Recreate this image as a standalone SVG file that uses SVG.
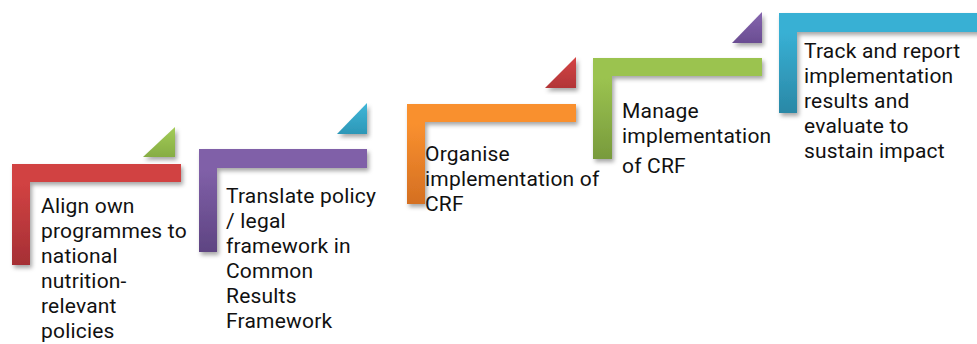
<svg xmlns="http://www.w3.org/2000/svg" width="977" height="344" viewBox="0 0 977 344">
  <defs>
    <filter id="sh" x="-20%" y="-20%" width="140%" height="140%">
      <feDropShadow dx="2" dy="3" stdDeviation="2" flood-color="#000" flood-opacity="0.35"/>
    </filter>
    <linearGradient id="gRed" x1="0" y1="0" x2="0" y2="1">
      <stop offset="0.2" stop-color="#D14242"/>
      <stop offset="1" stop-color="#A52F35"/>
    </linearGradient>
    <linearGradient id="gPurple" x1="0" y1="0" x2="0" y2="1">
      <stop offset="0.2" stop-color="#8060A8"/>
      <stop offset="1" stop-color="#5E4482"/>
    </linearGradient>
    <linearGradient id="gOrange" x1="0" y1="0" x2="0" y2="1">
      <stop offset="0.2" stop-color="#F9902F"/>
      <stop offset="1" stop-color="#D46F22"/>
    </linearGradient>
    <linearGradient id="gGreen" x1="0" y1="0" x2="0" y2="1">
      <stop offset="0.2" stop-color="#9BC350"/>
      <stop offset="1" stop-color="#789A3C"/>
    </linearGradient>
    <linearGradient id="gTeal" x1="0" y1="0" x2="0" y2="1">
      <stop offset="0.2" stop-color="#38B0D4"/>
      <stop offset="1" stop-color="#2A88A6"/>
    </linearGradient>
    <linearGradient id="tGreen" x1="0" y1="0" x2="0" y2="1">
      <stop offset="0" stop-color="#A3CC58"/>
      <stop offset="1" stop-color="#86AD43"/>
    </linearGradient>
    <linearGradient id="tTeal" x1="0" y1="0" x2="0" y2="1">
      <stop offset="0" stop-color="#40B6D8"/>
      <stop offset="1" stop-color="#2C97B7"/>
    </linearGradient>
    <linearGradient id="tRed" x1="0" y1="0" x2="0" y2="1">
      <stop offset="0" stop-color="#D44444"/>
      <stop offset="1" stop-color="#B23538"/>
    </linearGradient>
    <linearGradient id="tPurple" x1="0" y1="0" x2="0" y2="1">
      <stop offset="0" stop-color="#8565AE"/>
      <stop offset="1" stop-color="#6A4D92"/>
    </linearGradient>
  </defs>
  <style>
    .lbl { font-family: Roboto, "Open Sans", "Liberation Sans", sans-serif; font-size: 21px; letter-spacing: 0.2px; fill: #111; }
    .bar { filter: url(#sh); }
  </style>
  <rect width="977" height="344" fill="#FFFFFF"/>

  <g id="connectors">
    <path class="bar" d="M143,157 L175,157 L175,127 Z" fill="url(#tGreen)"/>
    <path class="bar" d="M337,134 L367,134 L367,103 Z" fill="url(#tTeal)"/>
    <path class="bar" d="M545,88 L576,88 L576,57 Z" fill="url(#tRed)"/>
    <path class="bar" d="M732,43 L762,43 L762,12 Z" fill="url(#tPurple)"/>
  </g>

  <g id="step1">
    <path class="bar" d="M12,164 H181 V182 H30 V265 H12 Z" fill="url(#gRed)"/>
    <text class="lbl" x="41" y="213">
      <tspan x="41" y="213">Align own</tspan>
      <tspan x="41" y="238">programmes to</tspan>
      <tspan x="41" y="263">national</tspan>
      <tspan x="41" y="288">nutrition-</tspan>
      <tspan x="41" y="313">relevant</tspan>
      <tspan x="41" y="338">policies</tspan>
    </text>
  </g>

  <g id="step2">
    <path class="bar" d="M199,149 H367 V168 H217 V252 H199 Z" fill="url(#gPurple)"/>
    <text class="lbl" x="226" y="203">
      <tspan x="226" y="203">Translate policy</tspan>
      <tspan x="226" y="228">/ legal</tspan>
      <tspan x="226" y="253">framework in</tspan>
      <tspan x="226" y="278">Common</tspan>
      <tspan x="226" y="303">Results</tspan>
      <tspan x="226" y="328">Framework</tspan>
    </text>
  </g>

  <g id="step3">
    <path class="bar" d="M407,104 H576 V122 H425 V204 H407 Z" fill="url(#gOrange)"/>
    <text class="lbl" x="425" y="161">
      <tspan x="425" y="161">Organise</tspan>
      <tspan x="425" y="186">implementation of</tspan>
      <tspan x="425" y="211">CRF</tspan>
    </text>
  </g>

  <g id="step4">
    <path class="bar" d="M593,58 H762 V76 H612 V159 H593 Z" fill="url(#gGreen)"/>
    <text class="lbl" x="622" y="118">
      <tspan x="622" y="118">Manage</tspan>
      <tspan x="622" y="143">implementation</tspan>
      <tspan x="622" y="173">of CRF</tspan>
    </text>
  </g>

  <g id="step5">
    <path class="bar" d="M779,13 H980 V32 H797 V113 H779 Z" fill="url(#gTeal)"/>
    <text class="lbl" x="804" y="58">
      <tspan x="804" y="58">Track and report</tspan>
      <tspan x="804" y="83">implementation</tspan>
      <tspan x="804" y="108">results and</tspan>
      <tspan x="804" y="133">evaluate to</tspan>
      <tspan x="804" y="158">sustain impact</tspan>
    </text>
  </g>
</svg>
